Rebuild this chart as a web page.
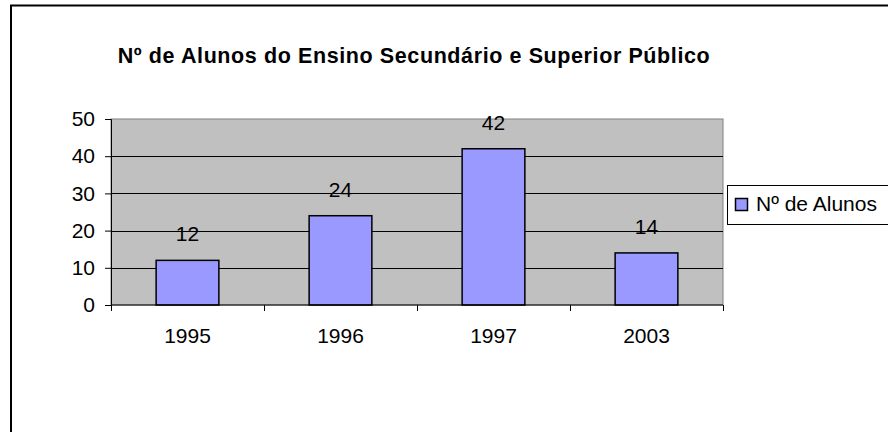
<!DOCTYPE html>
<html>
<head>
<meta charset="utf-8">
<script src="https://cdn.jsdelivr.net/npm/d3@7"></script>
<style>
  body { margin: 0; background: #fff; }
  text { font-family: Arial, "Liberation Sans", sans-serif; fill: #000; }
</style>
</head>
<body>
<div id="chart"></div>
<script>
const years = ['1995', '1996', '1997', '2003']
const alunos = [12, 24, 42, 14]
const yTicks = [0, 10, 20, 30, 40, 50]
const title = 'Nº de Alunos do Ensino Secundário e Superior Público'
const seriesName = 'Nº de Alunos'

const width = 888
const height = 432
const margin = { top: 119, left: 111, right: 165, bottom: 127 }

const svg = d3
  .select('#chart')
  .append('svg')
  .attr('width', width)
  .attr('height', height)

// outer chart frame (right and bottom edges fall outside the picture)
svg
  .append('rect')
  .attr('x', 11)
  .attr('y', 5.5)
  .attr('width', width + 20)
  .attr('height', height + 20)
  .attr('fill', '#fff')
  .attr('stroke', '#000')
  .attr('stroke-width', 2)

svg
  .append('text')
  .attr('x', 414)
  .attr('y', 63)
  .attr('text-anchor', 'middle')
  .style('font-size', '21.5px')
  .style('font-weight', 'bold')
  .style('letter-spacing', '0.6px')
  .text(title)

const x = d3
  .scaleBand()
  .domain(years)
  .range([margin.left, width - margin.right])

const y = d3
  .scaleLinear()
  .domain([0, 50])
  .range([height - margin.bottom, margin.top])

const barWidth = x.bandwidth() * 0.41

// plot area
svg
  .append('rect')
  .attr('x', margin.left)
  .attr('y', y(50))
  .attr('width', x.range()[1] - margin.left)
  .attr('height', y(0) - y(50))
  .attr('fill', '#c0c0c0')
  .attr('stroke', '#808080')
  .attr('stroke-width', 1)

// gridlines
svg
  .selectAll('.grid')
  .data(yTicks.filter(d => d > 0 && d < 50))
  .enter()
  .append('line')
  .attr('class', 'grid')
  .attr('x1', margin.left)
  .attr('x2', x.range()[1])
  .attr('y1', d => Math.round(y(d)) + 0.5)
  .attr('y2', d => Math.round(y(d)) + 0.5)
  .attr('stroke', '#000')
  .attr('stroke-width', 1)

// bars
svg
  .selectAll('.bar')
  .data(alunos)
  .enter()
  .append('rect')
  .attr('class', 'bar')
  .attr('x', (d, i) => x(years[i]) + (x.bandwidth() - barWidth) / 2)
  .attr('y', d => y(d))
  .attr('width', barWidth)
  .attr('height', d => y(0) - y(d))
  .attr('fill', '#9999ff')
  .attr('stroke', '#000')
  .attr('stroke-width', 1.5)

// data labels
svg
  .selectAll('.label')
  .data(alunos)
  .enter()
  .append('text')
  .attr('class', 'label')
  .attr('x', (d, i) => x(years[i]) + x.bandwidth() / 2)
  .attr('y', d => y(d) - 19)
  .attr('text-anchor', 'middle')
  .style('font-size', '21px')
  .text(d => d)

// y axis
const yAxis = d3
  .axisLeft(y)
  .tickValues(yTicks)
  .tickSize(6)
  .tickPadding(10)

svg
  .append('g')
  .attr('transform', 'translate(' + margin.left + ',0)')
  .call(yAxis)
  .call(g => g.selectAll('text').style('font-size', '21px').style('font-family', 'Arial, "Liberation Sans", sans-serif'))
  .call(g => g.selectAll('line, path').attr('stroke', '#000'))

// x axis, ticks between categories
const xAxisG = svg
  .append('g')
  .attr('transform', 'translate(0,' + y(0) + ')')

xAxisG
  .append('line')
  .attr('x1', margin.left)
  .attr('x2', x.range()[1])
  .attr('stroke', '#000')

xAxisG
  .selectAll('.xtick')
  .data(years.concat(['end']))
  .enter()
  .append('line')
  .attr('class', 'xtick')
  .attr('x1', (d, i) => Math.round(margin.left + i * x.step()) + 0.5)
  .attr('x2', (d, i) => Math.round(margin.left + i * x.step()) + 0.5)
  .attr('y1', 0)
  .attr('y2', 6)
  .attr('stroke', '#000')

xAxisG
  .selectAll('.xlabel')
  .data(years)
  .enter()
  .append('text')
  .attr('class', 'xlabel')
  .attr('x', d => x(d) + x.bandwidth() / 2)
  .attr('y', 38)
  .attr('text-anchor', 'middle')
  .style('font-size', '21px')
  .text(d => d)

// legend
const legend = svg.append('g').attr('transform', 'translate(727,185)')

legend
  .append('rect')
  .attr('x', 0.5)
  .attr('y', 0.5)
  .attr('width', 200)
  .attr('height', 39)
  .attr('fill', '#fff')
  .attr('stroke', '#000')

legend
  .append('rect')
  .attr('x', 8.5)
  .attr('y', 13.5)
  .attr('width', 12)
  .attr('height', 12)
  .attr('fill', '#9999ff')
  .attr('stroke', '#000')
  .attr('stroke-width', 1.5)

legend
  .append('text')
  .attr('x', 29)
  .attr('y', 26)
  .style('font-size', '21px')
  .text(seriesName)
</script>
</body>
</html>
